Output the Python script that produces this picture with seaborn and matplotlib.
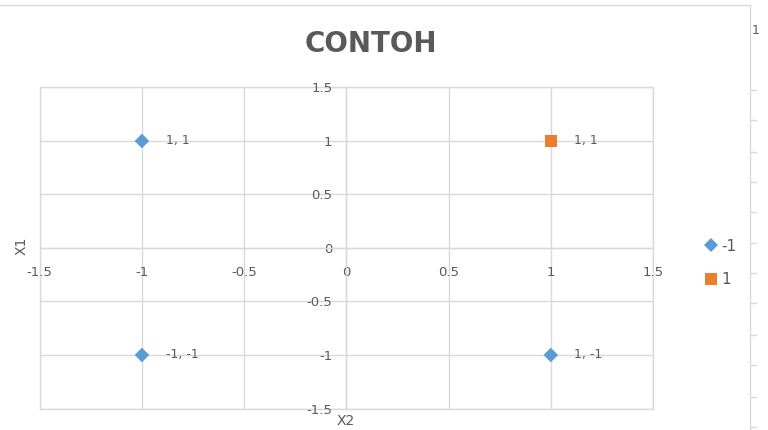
import matplotlib
matplotlib.use("Agg")
import matplotlib.pyplot as plt
import seaborn as sns
import pandas as pd
from matplotlib.lines import Line2D

# Data
x2_values = [-1, 1, -1, 1]
x1_values = [1, 1, -1, -1]
classes = ["-1", "1", "-1", "-1"]
point_labels = ["1, 1", "1, 1", "-1, -1", "1, -1"]
tick_values = [-1.5, -1, -0.5, 0, 0.5, 1, 1.5]
tick_labels = ["-1.5", "-1", "-0.5", "0", "0.5", "1", "1.5"]
title = "CONTOH"

df = pd.DataFrame({"X2": x2_values, "X1": x1_values, "kelas": classes})

sns.set_style("white")
plt.rcParams["font.family"] = ["DejaVu Sans"]

GRAY_TXT = "#595959"
GRID = "#D9D9D9"

fig = plt.figure(figsize=(7.68, 4.30), dpi=100)
ax = fig.add_axes([39.75 / 768, 1 - 408.5 / 430, (653 - 39.75) / 768, (408.5 - 87.5) / 430])

sns.scatterplot(data=df, x="X2", y="X1", hue="kelas", style="kelas", size="kelas",
                hue_order=["-1", "1"], style_order=["-1", "1"], size_order=["-1", "1"],
                markers={"-1": "D", "1": "s"},
                palette={"-1": "#5B9BD5", "1": "#ED7D31"},
                sizes={"-1": 55, "1": 72},
                linewidth=0, ax=ax, zorder=3, clip_on=False)

for xv, yv, lab in zip(x2_values, x1_values, point_labels):
    ax.annotate(lab, (xv, yv), xytext=(17, 0), textcoords="offset points",
                ha="left", va="center", fontsize=9, color=GRAY_TXT)

ax.set_xlim(-1.5, 1.5)
ax.set_ylim(-1.5, 1.5)
ax.set_xticks(tick_values)
ax.set_xticklabels(tick_labels)
ax.set_yticks(tick_values)
ax.set_yticklabels(tick_labels)
ax.grid(True, color=GRID, linewidth=1)
ax.set_axisbelow(True)

for s in ["top", "right"]:
    ax.spines[s].set_visible(False)
for s in ["left", "bottom"]:
    ax.spines[s].set_position(("data", 0))
    ax.spines[s].set_color(GRID)
    ax.spines[s].set_linewidth(1)

ax.tick_params(axis="both", length=0, colors=GRAY_TXT, labelsize=9.5)
ax.tick_params(axis="x", pad=13)
ax.tick_params(axis="y", pad=10)
ax.set_xlabel("")
ax.set_ylabel("")

# frame lines of the plot area (the outer gridlines)
for v in (-1.5, 1.5):
    ax.axhline(v, color=GRID, lw=1, zorder=0.5, clip_on=False)
    ax.axvline(v, color=GRID, lw=1, zorder=0.5, clip_on=False)

# axis titles
fig.text(22 / 768, 1 - 246 / 430, "X1", rotation=90, ha="center", va="center",
         fontsize=10, color=GRAY_TXT)
fig.text(346 / 768, 1 - 421 / 430, "X2", ha="center", va="center",
         fontsize=10, color=GRAY_TXT)

# title
fig.text(371 / 768, 1 - 44 / 430, title, ha="center", va="center",
         fontsize=20, fontweight="bold", color=GRAY_TXT)

# legend
handles, labels = ax.get_legend_handles_labels()
ax.legend(handles, labels, loc="center left",
          bbox_to_anchor=(697 / 768, 1 - 263 / 430), bbox_transform=fig.transFigure,
          frameon=False, fontsize=11, labelcolor=GRAY_TXT,
          handlelength=0.8, handletextpad=0.3, labelspacing=1.2, borderpad=0)

# chart-area border and neighbouring element at the right edge
fig.add_artist(Line2D([0, 750 / 768], [1 - 5 / 430, 1 - 5 / 430],
                      transform=fig.transFigure, color=GRID, lw=1))
fig.add_artist(Line2D([750 / 768, 750 / 768], [0, 1 - 5 / 430],
                      transform=fig.transFigure, color=GRID, lw=1))
for ty in [90, 120, 152, 182, 212, 243, 273, 303, 335, 365, 397, 427]:
    fig.add_artist(Line2D([750 / 768, 756 / 768], [1 - ty / 430, 1 - ty / 430],
                          transform=fig.transFigure, color=GRID, lw=1))
fig.text(752 / 768, 1 - 30 / 430, "1", ha="left", va="center", fontsize=9, color=GRAY_TXT)

fig.savefig("out.png", dpi=100)
